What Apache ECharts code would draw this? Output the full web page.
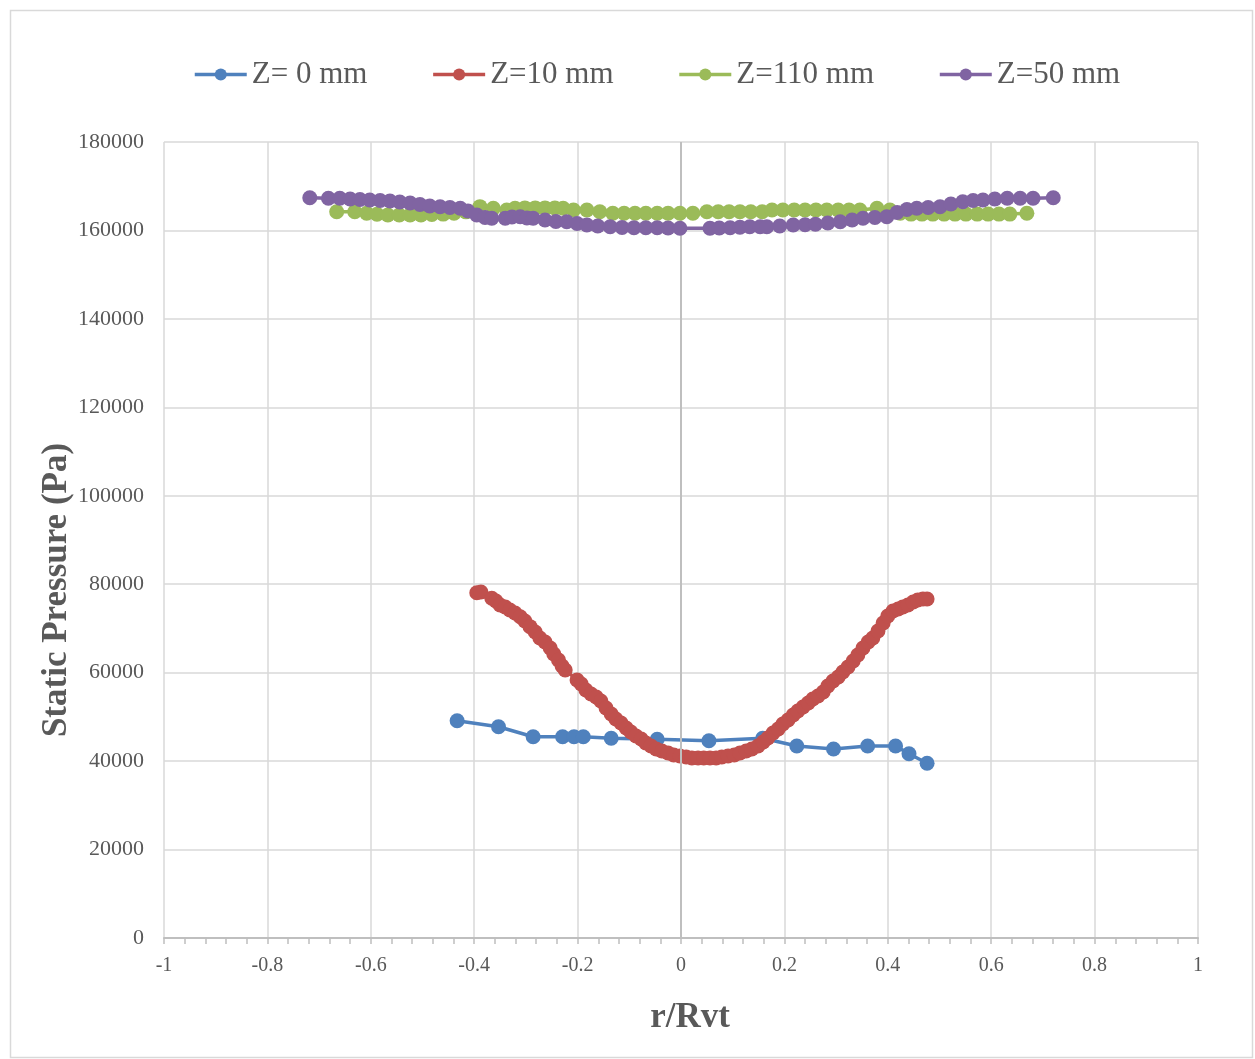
<!DOCTYPE html>
<html>
<head>
<meta charset="utf-8">
<script src="https://cdn.jsdelivr.net/npm/echarts@6/dist/echarts.min.js"></script>
<style>html,body{margin:0;padding:0;background:#fff;}#c{width:1255px;height:1059px;}</style>
</head>
<body>
<div id="c"></div>
<script>
// ---- data (r/Rvt, static pressure Pa) ----
const seriesNames = ['Z= 0 mm', 'Z=10 mm', 'Z=110 mm', 'Z=50 mm'];
const xTicks = [-1, -0.8, -0.6, -0.4, -0.2, 0, 0.2, 0.4, 0.6, 0.8, 1];
const yTicks = [0, 20000, 40000, 60000, 80000, 100000, 120000, 140000, 160000, 180000];

const z0R = [-0.433, -0.353, -0.286, -0.229, -0.207, -0.189, -0.135, -0.046, 0.054, 0.158, 0.224, 0.295, 0.361, 0.415, 0.441, 0.476];
const z0P = [49140, 47780, 45520, 45520, 45520, 45520, 45160, 44930, 44620, 45160, 43420, 42740, 43420, 43420, 41680, 39510];

const z10R = [-0.395, -0.387, -0.366, -0.358, -0.350, -0.340, -0.331, -0.321, -0.311, -0.302, -0.292, -0.282, -0.273, -0.263, -0.253, -0.246, -0.237, -0.230, -0.224,
  -0.201, -0.193, -0.184, -0.174, -0.164, -0.155, -0.145, -0.135, -0.126, -0.116, -0.106, -0.097, -0.087, -0.077, -0.068, -0.058, -0.048, -0.037, -0.025, -0.014, -0.002,
  0.010, 0.021, 0.033, 0.044, 0.056, 0.068, 0.079, 0.091, 0.103, 0.114, 0.126, 0.137, 0.149, 0.159, 0.168, 0.178, 0.188, 0.197, 0.207, 0.217, 0.226, 0.236, 0.246,
  0.255, 0.265, 0.275, 0.284, 0.294, 0.304, 0.313, 0.323, 0.333, 0.342, 0.352, 0.362, 0.371, 0.381, 0.391, 0.400, 0.410, 0.420, 0.429, 0.439, 0.449, 0.458, 0.468, 0.476];
const z10P = [78080, 78240, 76820, 76210, 75300, 74850, 74170, 73490, 72660, 71680, 70400, 69200, 67840, 66930, 65580, 64220, 62860, 61510, 60600,
  58340, 57440, 56080, 55180, 54500, 53590, 52010, 50650, 49520, 48620, 47490, 46580, 45680, 45000, 44100, 43420, 42740, 42290, 41830, 41380, 41160,
  40930, 40700, 40700, 40700, 40700, 40700, 40930, 41160, 41380, 41830, 42290, 42740, 43420, 44320, 45230, 46360, 47260, 48390, 49300, 50430, 51330, 52240, 53140,
  54050, 54720, 55630, 56990, 58120, 59020, 60150, 61280, 62640, 64000, 65580, 66930, 67840, 69420, 71230, 72810, 73950, 74400, 74850, 75300, 75980, 76430, 76660, 76660];

const z110R = [-0.666, -0.631, -0.608, -0.588, -0.567, -0.545, -0.524, -0.503, -0.482, -0.460, -0.439, -0.416, -0.389, -0.363, -0.337, -0.321, -0.302, -0.282, -0.263, -0.244, -0.228,
  -0.208, -0.182, -0.157, -0.132, -0.110, -0.089, -0.068, -0.046, -0.025, -0.002, 0.023, 0.050, 0.072, 0.093, 0.114, 0.135, 0.157, 0.176, 0.197, 0.219, 0.240, 0.261,
  0.282, 0.304, 0.325, 0.346, 0.379, 0.404, 0.424, 0.445, 0.466, 0.487, 0.509, 0.530, 0.551, 0.573, 0.594, 0.615, 0.636, 0.669];
const z110P = [164240, 164240, 163880, 163650, 163500, 163500, 163500, 163500, 163600, 163700, 163900, 164200, 165380, 165010, 164620, 165010, 165100, 165100, 165100, 165100, 165010,
  164620, 164620, 164240, 163880, 163880, 163880, 163880, 163880, 163880, 163880, 163880, 164240, 164240, 164240, 164240, 164240, 164240, 164620, 164620, 164620, 164620, 164620,
  164620, 164620, 164620, 164620, 165010, 164620, 163880, 163700, 163700, 163700, 163700, 163700, 163700, 163700, 163700, 163700, 163700, 163880];

const z50R = [-0.718, -0.682, -0.660, -0.640, -0.621, -0.602, -0.582, -0.563, -0.544, -0.524, -0.505, -0.486, -0.466, -0.447, -0.427, -0.412, -0.395, -0.379, -0.366, -0.340,
  -0.327, -0.311, -0.298, -0.286, -0.263, -0.242, -0.221, -0.201, -0.182, -0.161, -0.137, -0.114, -0.091, -0.068, -0.046, -0.025, -0.002,
  0.056, 0.074, 0.095, 0.114, 0.133, 0.153, 0.166, 0.191, 0.217, 0.240, 0.260, 0.284, 0.308, 0.331, 0.352, 0.375, 0.398, 0.418, 0.437, 0.456, 0.478, 0.501,
  0.522, 0.545, 0.565, 0.584, 0.607, 0.631, 0.656, 0.681, 0.720];
const z50P = [167400, 167270, 167270, 167110, 167000, 166880, 166770, 166660, 166430, 166210, 165870, 165530, 165370, 165190, 165010, 164400, 163490, 162930, 162750, 162750,
  163040, 163110, 162810, 162750, 162360, 162020, 161980, 161570, 161230, 161010, 160850, 160670, 160620, 160620, 160620, 160550, 160490,
  160490, 160550, 160620, 160730, 160850, 160850, 160850, 161010, 161230, 161300, 161390, 161680, 161980, 162360, 162750, 162930, 163110, 164060, 164740, 165010, 165190, 165370,
  165980, 166500, 166770, 166880, 167110, 167270, 167270, 167270, 167400];

// ---- build ----
const zip = (a, b) => a.map((v, i) => [v, b[i]]);
const colors = ['#4F81BD', '#C0504D', '#9BBB59', '#8064A2'];
const datasets = [zip(z0R, z0P), zip(z10R, z10P), zip(z110R, z110P), zip(z50R, z50P)];
const font = 'Liberation Serif';
const txt = '#595959';

const series = datasets.map((d, i) => ({
  name: seriesNames[i],
  type: 'line',
  data: d,
  symbol: 'circle',
  symbolSize: 15,
  showAllSymbol: true,
  lineStyle: { width: 3.5, color: colors[i] },
  itemStyle: { color: colors[i] },
  z: 3 + i,
  animation: false
}));
series[0].markLine = {
  silent: true, symbol: 'none', animation: false, label: { show: false },
  lineStyle: { color: '#bfbfbf', width: 2, type: 'solid' },
  data: [{ xAxis: 0 }]
};

const chart = echarts.init(document.getElementById('c'), null, { renderer: 'canvas' });
chart.setOption({
  backgroundColor: '#fff',
  animation: false,
  color: colors,
  legend: {
    data: seriesNames,
    left: 188, top: 54,
    itemWidth: 52, itemHeight: 15, itemGap: 64,
    lineStyle: { width: 3.5 },
    textStyle: { fontFamily: font, fontSize: 31, color: txt }
  },
  grid: { left: 164, right: 57, top: 142, bottom: 121, containLabel: false },
  xAxis: {
    type: 'value', min: xTicks[0], max: xTicks[xTicks.length - 1], interval: 0.2,
    axisLine: { show: true, onZero: false, lineStyle: { color: '#bfbfbf', width: 2 } },
    axisTick: { show: true, length: 6, inside: false, lineStyle: { color: '#bfbfbf', width: 1.5 } },
    minorTick: { show: true, splitNumber: 5, length: 6, lineStyle: { color: '#bfbfbf', width: 1.5 } },
    splitLine: { show: true, lineStyle: { color: '#d9d9d9', width: 1.5 } },
    axisLabel: { fontFamily: font, fontSize: 20, color: txt, margin: 18,
      formatter: v => String(Math.round(v * 10) / 10) }
  },
  yAxis: {
    type: 'value', min: yTicks[0], max: yTicks[yTicks.length - 1], interval: 20000,
    axisLine: { show: false },
    axisTick: { show: false },
    splitLine: { show: true, lineStyle: { color: '#d9d9d9', width: 1.5 } },
    axisLabel: { fontFamily: font, fontSize: 22, color: txt, margin: 20, formatter: v => String(v) }
  },
  graphic: [
    { type: 'rect', left: 8, top: 8, shape: { width: 1242, height: 1047 }, style: { fill: 'none', stroke: '#d9d9d9', lineWidth: 1.5 }, silent: true },
    { type: 'text', x: 57, y: 590, rotation: Math.PI / 2, style: { text: 'Static Pressure (Pa)', fontFamily: font, fontWeight: 'bold', fontSize: 35, fill: txt, align: 'center', verticalAlign: 'middle' }, z: 10 },
    { type: 'text', x: 690, y: 1018, style: { text: 'r/Rvt', fontFamily: font, fontWeight: 'bold', fontSize: 35, fill: txt, align: 'center', verticalAlign: 'middle' }, z: 10 }
  ],
  series: series
});
</script>
</body>
</html>
